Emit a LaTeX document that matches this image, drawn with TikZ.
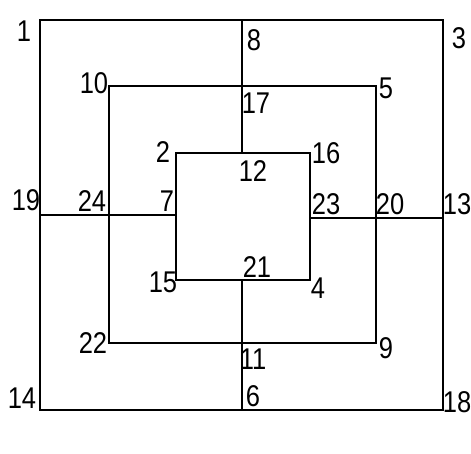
\documentclass[tikz,border=0pt]{standalone}
\usepackage{fontspec}
\setmainfont{Liberation Sans}[FakeStretch=0.85]
\begin{document}
\begin{tikzpicture}[x=0.5pt,y=-0.5pt,line width=0.8pt,
  lbl/.style={font=\fontsize{15}{17}\selectfont,inner sep=0pt}]
\useasboundingbox (0,0) rectangle (471,454);
% outer square
\coordinate (c1) at (40,20);
\coordinate (c3) at (443,20);
\coordinate (c18) at (443,410);
\coordinate (c14) at (40,410);
% middle square
\coordinate (c10) at (109,86);
\coordinate (c5) at (376,86);
\coordinate (c9) at (376,343);
\coordinate (c22) at (109,343);
% inner square
\coordinate (c2) at (176,153);
\coordinate (c16) at (310,153);
\coordinate (c4) at (310,280);
\coordinate (c15) at (176,280);
% cross points
\coordinate (c8) at (242,20);
\coordinate (c17) at (242,86);
\coordinate (c12) at (242,153);
\coordinate (c21) at (242,280);
\coordinate (c11) at (242,343);
\coordinate (c6) at (242,410);
\coordinate (c19) at (40,215);
\coordinate (c24) at (109,215);
\coordinate (c7) at (176,215);
\coordinate (c23) at (310,218);
\coordinate (c20) at (376,218);
\coordinate (c13) at (443,218);
\draw (c1) -- (c3) -- (c18) -- (c14) -- cycle;
\draw (c10) -- (c5) -- (c9) -- (c22) -- cycle;
\draw (c2) -- (c16) -- (c4) -- (c15) -- cycle;
\draw (c8) -- (c17) -- (c12);
\draw (c21) -- (c11) -- (c6);
\draw (c19) -- (c24) -- (c7);
\draw (c23) -- (c20) -- (c13);
% labels
\node[lbl] (l1) at (24,31) {1};
\node[lbl] (l3) at (459,38) {3};
\node[lbl] (l18) at (457,402) {18};
\node[lbl] (l14) at (22,398) {14};
\node[lbl] (l10) at (94,83) {10};
\node[lbl] (l5) at (386,88) {5};
\node[lbl] (l9) at (386,348) {9};
\node[lbl] (l22) at (93,343) {22};
\node[lbl] (l2) at (163,152) {2};
\node[lbl] (l16) at (326,153) {16};
\node[lbl] (l4) at (318,288) {4};
\node[lbl] (l15) at (163,282) {15};
\node[lbl] (l8) at (254,40) {8};
\node[lbl] (l17) at (256,103) {17};
\node[lbl] (l12) at (253,171) {12};
\node[lbl] (l21) at (257,267) {21};
\node[lbl] (l11) at (253,359) {11};
\node[lbl] (l6) at (253,396) {6};
\node[lbl] (l19) at (26,200) {19};
\node[lbl] (l24) at (92,201) {24};
\node[lbl] (l7) at (167,201) {7};
\node[lbl] (l23) at (326,204) {23};
\node[lbl] (l20) at (390,204) {20};
\node[lbl] (l13) at (457,204) {13};
\end{tikzpicture}
\end{document}
